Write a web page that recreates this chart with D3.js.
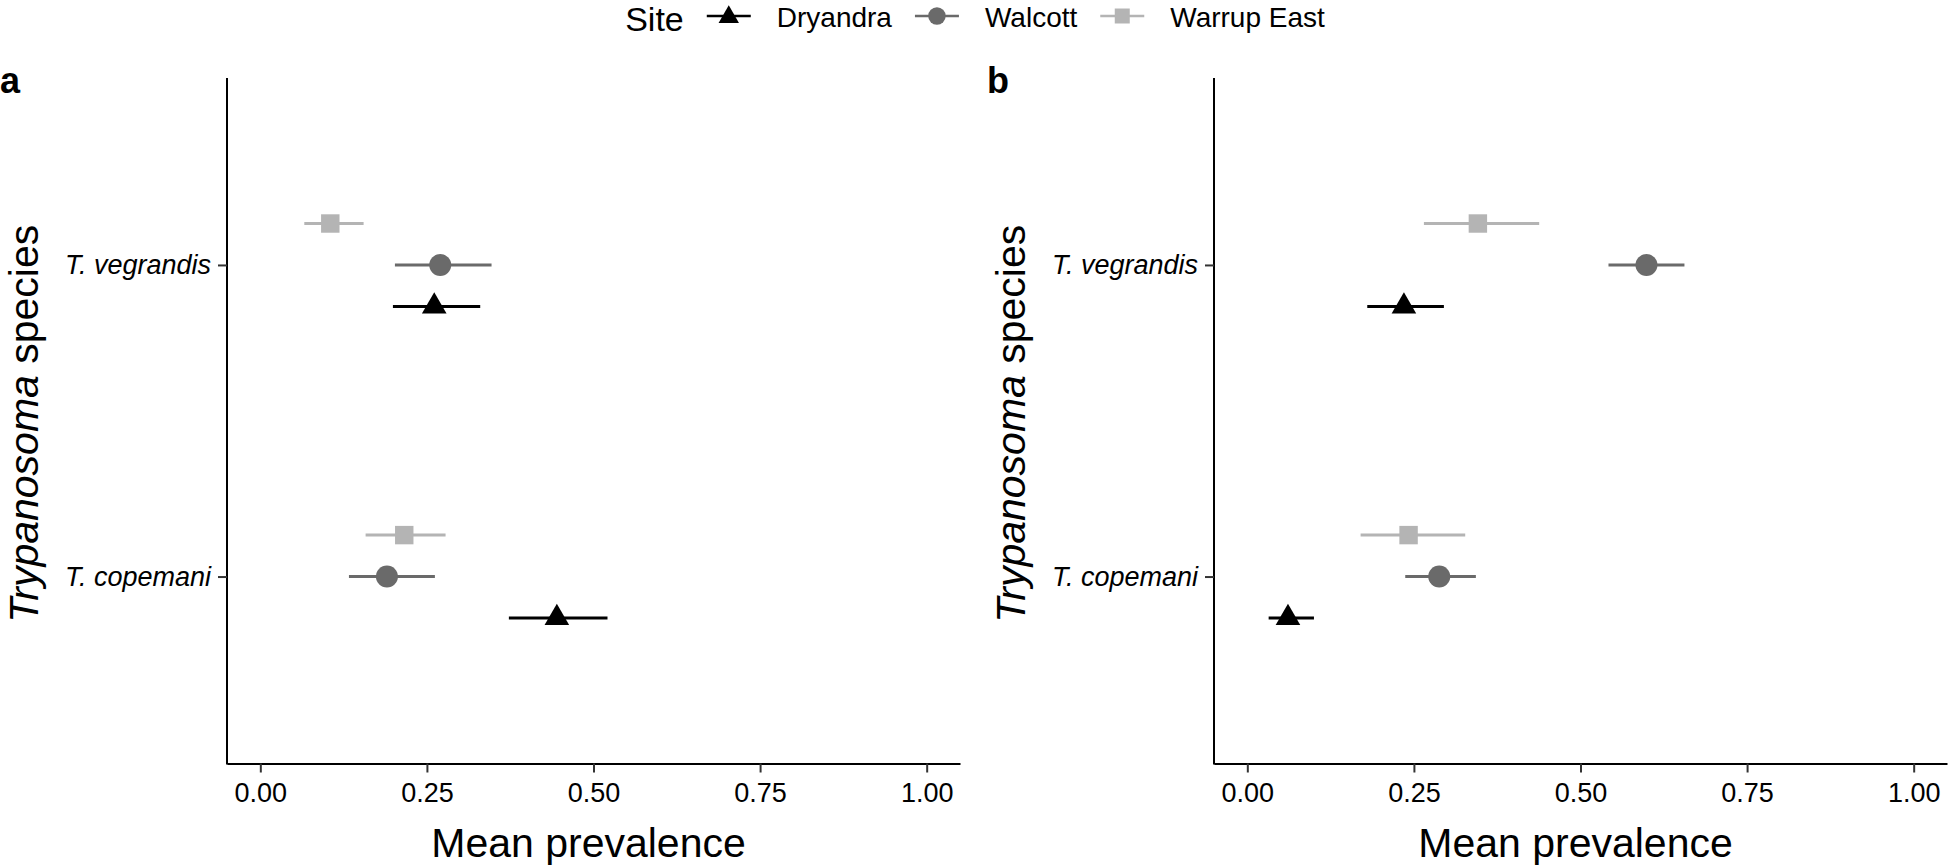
<!DOCTYPE html>
<html>
<head>
<meta charset="utf-8">
<script src="https://cdn.jsdelivr.net/npm/d3@7"></script>
<style>
  html, body { margin: 0; padding: 0; background: #fff; }
  svg { display: block; font-family: "Liberation Sans", Arial, Helvetica, sans-serif; }
</style>
</head>
<body>
<svg id="chart" width="1950" height="868"></svg>
<script>
// ---------- data ----------
const sites = ["Dryandra", "Walcott", "Warrup East"];
const species = ["T. vegrandis", "T. copemani"];
const xTicks = [0, 0.25, 0.5, 0.75, 1];
const xTickLabels = ["0.00", "0.25", "0.50", "0.75", "1.00"];
const panelLabels = ["a", "b"];

// Panel a: values per site, ordered as species []
const aMean  = { "Dryandra": [0.261, 0.445], "Walcott": [0.270, 0.190], "Warrup East": [0.105, 0.216] };
const aLower = { "Dryandra": [0.199, 0.373], "Walcott": [0.202, 0.133], "Warrup East": [0.066, 0.158] };
const aUpper = { "Dryandra": [0.330, 0.521], "Walcott": [0.347, 0.262], "Warrup East": [0.155, 0.278] };

// Panel b
const bMean  = { "Dryandra": [0.235, 0.061], "Walcott": [0.599, 0.288], "Warrup East": [0.346, 0.242] };
const bLower = { "Dryandra": [0.180, 0.032], "Walcott": [0.542, 0.237], "Warrup East": [0.265, 0.170] };
const bUpper = { "Dryandra": [0.295, 0.100], "Walcott": [0.656, 0.343], "Warrup East": [0.438, 0.327] };

const panels = [
  { label: panelLabels[0], mean: aMean, lower: aLower, upper: aUpper },
  { label: panelLabels[1], mean: bMean, lower: bLower, upper: bUpper }
];

// ---------- styles ----------
const colors = { "Dryandra": "#000000", "Walcott": "#6a6a6a", "Warrup East": "#b4b4b4" };
const shapes = { "Dryandra": d3.symbolTriangle, "Walcott": d3.symbolCircle, "Warrup East": d3.symbolSquare };
const plotSizes = { "Dryandra": 262, "Walcott": 380, "Warrup East": 340 };
const keySizes = { "Dryandra": 180, "Walcott": 240, "Warrup East": 225 };
const dodge = { "Dryandra": 1, "Walcott": 0, "Warrup East": -1 }; // screen direction

const svg = d3.select("#chart");
const W = 1950;
const panelShift = 987;
const plotLeft = 227, plotRight = 960, plotTop = 78, plotBottom = 763.5;

panels.forEach((p, i) => {
  const g = svg.append("g").attr("transform", `translate(${i * panelShift},0)`);

  const x = d3.scaleLinear().domain([-0.05, 1.05]).range([plotLeft, plotRight]);
  const y = d3.scalePoint().domain(species)
    .range([plotTop, plotBottom]).padding(0.6);
  const step = y.step();
  const off = 0.133 * step;

  // x axis
  const xAxis = d3.axisBottom(x).tickValues(xTicks)
    .tickFormat((d, k) => xTickLabels[k]).tickSize(9).tickSizeOuter(0).tickPadding(10);
  const gx = g.append("g").attr("transform", `translate(0,${plotBottom})`).call(xAxis);
  gx.select(".domain").attr("stroke", "#000").attr("stroke-width", 2);
  gx.selectAll(".tick line").attr("stroke", "#333").attr("stroke-width", 2);
  gx.selectAll(".tick text").attr("font-size", 27).attr("fill", "#000")
    .attr("font-family", "'Liberation Sans', Arial, sans-serif");

  // y axis
  const yAxis = d3.axisLeft(y).tickSize(9).tickSizeOuter(0).tickPadding(7);
  const gy = g.append("g").attr("transform", `translate(${plotLeft},0)`).call(yAxis);
  gy.select(".domain").attr("stroke", "#000").attr("stroke-width", 2)
    .attr("d", `M0,${plotTop}V${plotBottom + 1}`);
  gy.selectAll(".tick line").attr("stroke", "#333").attr("stroke-width", 2);
  gy.selectAll(".tick text").attr("font-size", 27).attr("font-style", "italic").attr("fill", "#000")
    .attr("font-family", "'Liberation Sans', Arial, sans-serif");

  // axis titles
  g.append("text")
    .attr("x", x(0.5) - 5).attr("y", 857)
    .attr("text-anchor", "middle").attr("font-size", 41).attr("fill", "#000")
    .text("Mean prevalence");

  const yt = g.append("text")
    .attr("transform", `translate(38,${(plotTop + plotBottom) / 2 + 3}) rotate(-90)`)
    .attr("text-anchor", "middle").attr("font-size", 41).attr("fill", "#000");
  yt.append("tspan").attr("font-style", "italic").text("Trypanosoma");
  yt.append("tspan").text(" species");

  // panel label
  g.append("text").attr("x", 0).attr("y", 93)
    .attr("font-size", 36).attr("font-weight", "bold").attr("fill", "#000")
    .text(p.label);

  // marks
  sites.forEach(s => {
    species.forEach((sp, k) => {
      const cy = y(sp) + dodge[s] * off;
      g.append("line")
        .attr("x1", x(p.lower[s][k])).attr("x2", x(p.upper[s][k]))
        .attr("y1", cy).attr("y2", cy)
        .attr("stroke", colors[s]).attr("stroke-width", 3);
      g.append("path")
        .attr("d", d3.symbol().type(shapes[s]).size(plotSizes[s])())
        .attr("transform", `translate(${x(p.mean[s][k])},${cy})`)
        .attr("fill", colors[s]);
    });
  });
});

// ---------- legend ----------
const leg = svg.append("g");
const legY = 16;
const title = leg.append("text").attr("font-size", 34).attr("fill", "#000")
  .attr("y", 31).text("Site");
let cursor = title.node().getComputedTextLength();
sites.forEach(s => {
  const kc = cursor + 45;
  const gi = leg.append("g");
  gi.append("line").attr("x1", kc - 22).attr("x2", kc + 22).attr("y1", legY).attr("y2", legY)
    .attr("stroke", colors[s]).attr("stroke-width", 2.5);
  gi.append("path").attr("d", d3.symbol().type(shapes[s]).size(keySizes[s])())
    .attr("transform", `translate(${kc},${legY + (s === "Dryandra" ? 1 : 0)})`)
    .attr("fill", colors[s]);
  const t = leg.append("text").attr("x", kc + 48).attr("y", 26.5)
    .attr("font-size", 28).attr("fill", "#000").text(s);
  cursor = kc + 48 + t.node().getComputedTextLength();
});
leg.attr("transform", `translate(${W / 2 - cursor / 2},0)`);
</script>
</body>
</html>
